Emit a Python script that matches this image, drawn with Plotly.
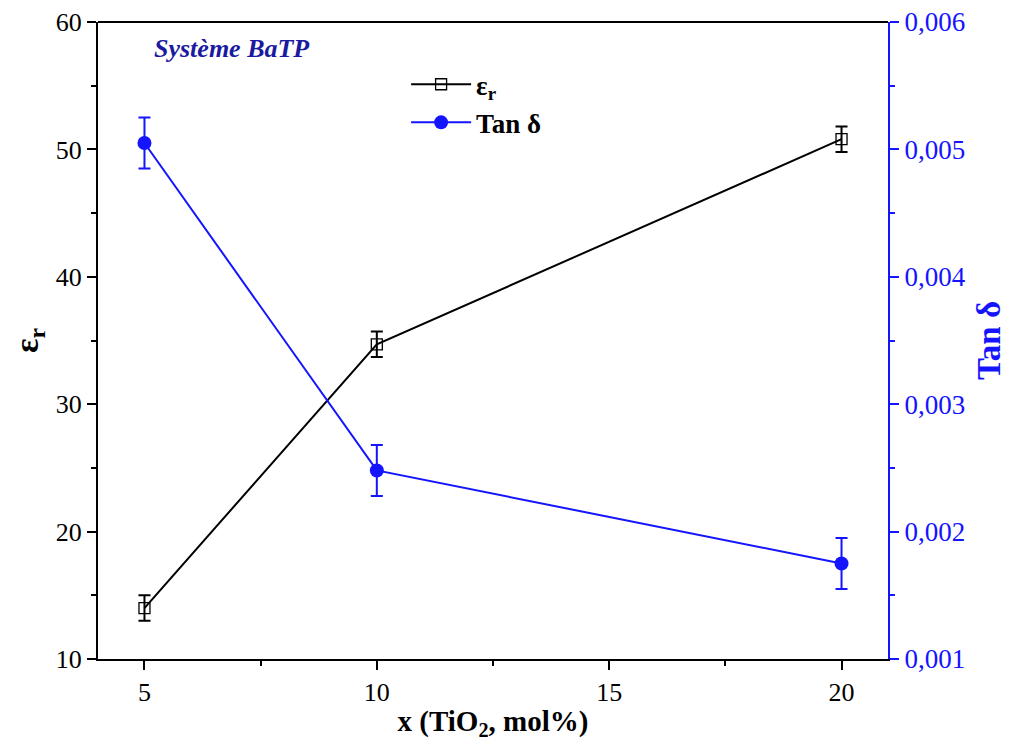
import plotly.graph_objects as go

x_vals = [5, 10, 20]
eps_r = [14.0, 34.7, 50.8]
eps_err = [1.0, 1.0, 1.0]
tan_d = [0.00505, 0.00248, 0.00175]
tan_err = [0.0002, 0.0002, 0.0002]
right_ticks = [0.001, 0.002, 0.003, 0.004, 0.005, 0.006]
right_ticktext = ["0,001", "0,002", "0,003", "0,004", "0,005", "0,006"]

FONT = "Liberation Serif"
BLUE = "#1414ff"

fig = go.Figure()
fig.add_trace(go.Scatter(
    x=x_vals, y=eps_r, name="<b>ε<sub>r</sub></b>", mode="lines+markers",
    line=dict(color="black", width=2),
    marker=dict(symbol="square-open", size=11, color="black", line=dict(width=1.3)),
    error_y=dict(type="data", array=eps_err, color="black", thickness=2, width=6),
    yaxis="y"))
fig.add_trace(go.Scatter(
    x=x_vals, y=tan_d, name="<b>Tan δ</b>", mode="lines+markers",
    line=dict(color=BLUE, width=2),
    marker=dict(symbol="circle", size=14, color=BLUE),
    error_y=dict(type="data", array=tan_err, color=BLUE, thickness=2, width=6),
    yaxis="y2"))

fig.update_layout(
    width=1010, height=740,
    paper_bgcolor="white", plot_bgcolor="white",
    margin=dict(l=90, r=130, t=14, b=89, autoexpand=False),
    font=dict(family=FONT, size=26, color="black"),
    showlegend=True,
    legend=dict(x=0.39, y=0.94, xanchor="left", yanchor="top",
                bgcolor="rgba(0,0,0,0)", font=dict(size=27, family=FONT),
                itemwidth=60, tracegroupgap=4),
    xaxis=dict(range=[4, 21], tickvals=[5, 10, 15, 20], ticks="outside",
               ticklen=9, tickwidth=2, tickcolor="black", automargin=False,
               ticklabeloverflow="allow",
               showline=True, linecolor="black", linewidth=2, mirror=False,
               showgrid=False, zeroline=False,
               minor=dict(tickvals=[7.5, 12.5, 17.5], ticks="outside", ticklen=5,
                          tickwidth=2, tickcolor="black"),
               title=dict(text="<b>x (TiO<sub>2</sub>, mol%)</b>",
                          font=dict(size=29, family=FONT), standoff=4),
               tickfont=dict(size=26, family=FONT)),
    yaxis=dict(range=[10, 60], tickvals=[10, 20, 30, 40, 50, 60], ticks="outside",
               ticklen=9, tickwidth=2, tickcolor="black", automargin=False,
               ticklabeloverflow="allow",
               showline=True, linecolor="black", linewidth=2,
               showgrid=False, zeroline=False,
               minor=dict(tickvals=[15, 25, 35, 45, 55], ticks="outside", ticklen=5,
                          tickwidth=2, tickcolor="black"),
               title=dict(text="<b>ε<sub>r</sub></b>", font=dict(size=34, family=FONT), standoff=26),
               tickfont=dict(size=26, family=FONT)),
    yaxis2=dict(range=[0.001, 0.006], overlaying="y", side="right",
                tickvals=right_ticks, ticktext=right_ticktext, ticks="outside",
                ticklen=9, tickwidth=2, tickcolor=BLUE, automargin=False,
                ticklabeloverflow="allow",
                showline=True, linecolor=BLUE, linewidth=2,
                showgrid=False, zeroline=False,
                minor=dict(tickvals=[0.0015, 0.0025, 0.0035, 0.0045, 0.0055],
                           ticks="outside", ticklen=5, tickwidth=2, tickcolor=BLUE),
                title=dict(text="<b>Tan δ</b>", font=dict(size=33, family=FONT, color=BLUE),
                           standoff=12),
                tickfont=dict(size=27, family=FONT, color=BLUE)),
    shapes=[dict(type="line", xref="paper", yref="paper", x0=0, x1=1, y0=1, y1=1,
                 line=dict(color="black", width=2))],
    annotations=[dict(text="<b><i>Système BaTP</i></b>", xref="paper", yref="paper",
                      x=0.068, y=0.984, xanchor="left", yanchor="top", showarrow=False,
                      font=dict(size=26, family=FONT, color="#1a1aa0"))],
)

fig.write_html("out.html")
